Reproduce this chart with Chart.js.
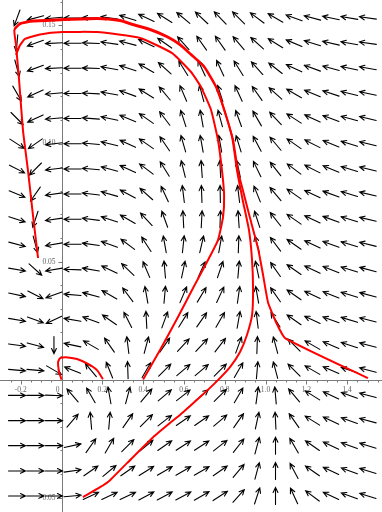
<!DOCTYPE html>
<html>
<head>
<meta charset="utf-8">
<script src="https://cdn.jsdelivr.net/npm/chart.js@4.4.1/dist/chart.umd.min.js"></script>
<style>
  html, body { margin: 0; padding: 0; background: #fff; overflow: hidden; }
  #wrap { width: 382px; height: 512px; position: relative; }
</style>
</head>
<body>
<div id="wrap"><canvas id="campo"></canvas></div>
<script>
// rango de los ejes
const xMin = -0.3015, xMax = 1.571;
const yMin = -0.0561, yMax = 0.1608;

// puntos de la malla del campo
const gridX = [-0.218, -0.128, -0.037, 0.054, 0.144, 0.235, 0.325, 0.416, 0.506, 0.597,
               0.687, 0.778, 0.868, 0.959, 1.049, 1.140, 1.230, 1.321, 1.411, 1.502];
const gridY = [0.1532, 0.1425, 0.1319, 0.1212, 0.1106, 0.0999, 0.0892, 0.0786, 0.0679, 0.0573,
               0.0466, 0.0359, 0.0253, 0.0146, 0.0040, -0.0067, -0.0174, -0.0280, -0.0387, -0.0493];

// direccion de cada flecha en grados (0 = derecha, 90 = arriba), una fila por gridY
const ang00 = [250, 195, 185, 180, 178, 172, 163, 155, 148, 140, 137, 134, 135, 143, 150, 160, 165, 168, 170, 172];
const ang01 = [265, 200, 183, 180, 178, 172, 165, 155, 145, 132, 125, 125, 130, 138, 148, 157, 163, 167, 170, 172];
const ang02 = [285, 200, 183, 180, 178, 170, 162, 150, 138, 122, 115, 115, 122, 132, 142, 155, 160, 165, 168, 170];
const ang03 = [300, 205, 185, 180, 177, 170, 160, 148, 130, 113, 105, 108, 115, 125, 138, 150, 157, 162, 166, 168];
const ang04 = [315, 205, 185, 180, 176, 168, 158, 145, 127, 108, 100, 105, 110, 120, 133, 147, 155, 160, 165, 167];
const ang05 = [327, 215, 187, 180, 175, 166, 155, 145, 124, 106, 100, 100, 107, 118, 130, 145, 153, 158, 163, 166];
const ang06 = [333, 225, 187, 180, 175, 165, 155, 143, 122, 104, 94, 93, 102, 116, 128, 143, 153, 158, 163, 166];
const ang07 = [338, 235, 188, 180, 173, 164, 152, 138, 115, 97, 92, 91, 97, 112, 130, 145, 155, 160, 163, 167];
const ang08 = [342, 252, 188, 180, 173, 162, 150, 133, 110, 93, 87, 88, 94, 108, 128, 145, 155, 160, 163, 167];
const ang09 = [345, 285, 190, 180, 172, 160, 143, 123, 100, 84, 77, 80, 88, 105, 127, 145, 155, 160, 163, 166];
const ang10 = [350, 318, 190, 178, 170, 155, 136, 113, 95, 78, 66, 71, 85, 102, 125, 145, 155, 158, 163, 165];
const ang11 = [348, 333, 200, 175, 165, 150, 127, 100, 85, 67, 59, 65, 82, 100, 125, 145, 155, 158, 163, 165];
const ang12 = [350, 340, 205, 170, 160, 145, 117, 93, 70, 58, 55, 60, 80, 97, 122, 145, 155, 160, 163, 166];
const ang13 = [352, 345, 270, 168, 150, 125, 97, 75, 55, 47, 47, 52, 70, 88, 105, 135, 150, 157, 162, 165];
const ang14 = [355, 355, 330, 158, 130, 112, 92, 60, 45, 40, 40, 45, 60, 85, 105, 135, 150, 157, 162, 165];
const ang15 = [0, 0, 358, 131, 120, 100, 75, 50, 40, 38, 40, 45, 60, 82, 95, 130, 148, 155, 160, 165];
const ang16 = [0, 0, 0, 49, 95, 85, 55, 45, 38, 35, 35, 40, 55, 78, 93, 125, 148, 155, 160, 165];
const ang17 = [0, 0, 0, 12, 55, 60, 45, 40, 35, 33, 33, 38, 52, 75, 90, 120, 145, 155, 160, 163];
const ang18 = [0, 0, 0, 8, 35, 40, 35, 32, 30, 30, 30, 35, 50, 75, 90, 118, 145, 155, 160, 163];
const ang19 = [0, 0, 0, 5, 25, 25, 25, 28, 28, 28, 30, 33, 48, 72, 90, 115, 143, 155, 160, 163];
const angRows = [ang00, ang01, ang02, ang03, ang04, ang05, ang06, ang07, ang08, ang09,
                 ang10, ang11, ang12, ang13, ang14, ang15, ang16, ang17, ang18, ang19];

// marcas de los ejes
const xTicks = [-0.2, 0, 0.2, 0.4, 0.6, 0.8, 1.0, 1.2, 1.4];
const xTickLabels = ['-0.2', '0', '0.2', '0.4', '0.6', '0.8', '1.0', '1.2', '1.4'];
const yTicks = [0.15, 0.10, 0.05, -0.05];
const yTickLabels = ['0.15', '0.10', '0.05', '-0.05'];

// trayectorias (rojas)
const tray1X = [-0.115, -0.140, -0.164, -0.189, -0.208, -0.223, -0.231, -0.203, -0.140, 0.007, 0.174, 0.287, 0.350, 0.434, 0.517, 0.581, 0.635, 0.699, 0.757, 0.797, 0.841, 0.865, 0.890, 0.919, 0.963, 0.988, 1.012, 1.051, 1.096, 1.502];
const tray1Y = [0.0515, 0.0697, 0.0883, 0.1057, 0.1269, 0.1417, 0.1481, 0.1506, 0.1517, 0.1523, 0.1528, 0.1519, 0.1502, 0.1481, 0.1451, 0.1417, 0.1375, 0.1324, 0.1239, 0.1142, 0.1015, 0.0883, 0.0799, 0.0701, 0.0557, 0.0443, 0.0328, 0.0244, 0.0176, 0.0006];

const tray2X = [-0.231, -0.203, -0.140, 0.007, 0.174, 0.287, 0.350, 0.434, 0.517, 0.581, 0.635, 0.699, 0.757, 0.797, 0.838, 0.860, 0.888, 0.919, 0.934, 0.939, 0.934, 0.909, 0.875, 0.826, 0.752, 0.679, 0.596, 0.449, 0.321, 0.238, 0.189, 0.105];
const tray2Y = [0.1485, 0.1510, 0.1521, 0.1527, 0.1532, 0.1523, 0.1506, 0.1485, 0.1455, 0.1421, 0.1379, 0.1328, 0.1243, 0.1146, 0.1019, 0.0887, 0.0761, 0.0633, 0.0506, 0.0379, 0.0273, 0.0189, 0.0117, 0.0053, -0.0015, -0.0074, -0.0138, -0.0244, -0.0354, -0.0426, -0.0456, -0.0498];

const tray3X = [-0.223, -0.203, -0.179, -0.105, 0.007, 0.174, 0.385, 0.542, 0.635, 0.684, 0.733, 0.767, 0.787, 0.797, 0.792, 0.767, 0.713, 0.645, 0.571, 0.483, 0.400];
const tray3Y = [0.1375, 0.1417, 0.1443, 0.1462, 0.1472, 0.1472, 0.1447, 0.1383, 0.1303, 0.1239, 0.1142, 0.1015, 0.0883, 0.0782, 0.0689, 0.0591, 0.0498, 0.0388, 0.0265, 0.0125, 0.0000];

const tray4X = [0.000, -0.012, -0.017, -0.007, 0.022, 0.076, 0.130, 0.174, 0.203];
const tray4Y = [0.0000, 0.0032, 0.0074, 0.0091, 0.0095, 0.0087, 0.0066, 0.0040, 0.0002];

const puntos = [];
const angulos = [];
for (let j = 0; j < gridY.length; j++) {
  for (let i = 0; i < gridX.length; i++) {
    puntos.push({ x: gridX[i], y: gridY[j] });
    angulos.push(angRows[j][i]);
  }
}

function unir(xs, ys) {
  return xs.map((v, k) => ({ x: v, y: ys[k] }));
}

function linea(xs, ys, ancho) {
  return {
    type: 'scatter',
    data: unir(xs, ys),
    showLine: true,
    borderColor: '#ff0000',
    borderWidth: ancho,
    pointRadius: 0,
    tension: 0.15,
    fill: false,
    order: 1
  };
}

// ejes cruzados en el origen + flechas del campo (debajo de las curvas)
const ejes = {
  id: 'ejes',
  beforeDatasetsDraw(chart) {
    const ctx = chart.ctx;
    const sx = chart.scales.x, sy = chart.scales.y;
    const area = chart.chartArea;
    const x0 = Math.round(sx.getPixelForValue(0)) + 0.5;
    const y0 = Math.round(sy.getPixelForValue(0)) + 0.5;
    ctx.save();
    ctx.strokeStyle = '#7a7a7a';
    ctx.lineWidth = 1;
    ctx.beginPath();
    ctx.moveTo(area.left, y0); ctx.lineTo(area.right, y0);
    ctx.moveTo(x0, area.top); ctx.lineTo(x0, area.bottom);
    for (let v = -0.25; v <= 1.56; v += 0.05) {
      const px = Math.round(sx.getPixelForValue(v)) + 0.5;
      const major = Math.abs(Math.round(v / 0.2) * 0.2 - v) < 1e-6;
      ctx.moveTo(px, y0); ctx.lineTo(px, y0 + (major ? 4 : 2));
    }
    for (let v = -0.05; v <= 0.16; v += 0.01) {
      const py = Math.round(sy.getPixelForValue(v)) + 0.5;
      const major = Math.abs(Math.round(v / 0.05) * 0.05 - v) < 1e-6;
      ctx.moveTo(x0, py); ctx.lineTo(x0 - (major ? 4 : 2), py);
    }
    ctx.stroke();

    ctx.fillStyle = '#666';
    ctx.font = '7.5px "Liberation Serif", "DejaVu Serif", serif';
    ctx.textBaseline = 'middle';
    ctx.textAlign = 'center';
    xTicks.forEach((v, k) => {
      let px = sx.getPixelForValue(v);
      if (v === 0) px -= 4;
      ctx.fillText(xTickLabels[k], px, y0 + 10);
    });
    ctx.textAlign = 'right';
    yTicks.forEach((v, k) => {
      ctx.fillText(yTickLabels[k], x0 - 7, sy.getPixelForValue(v));
    });

    // flechas: posicion tomada de los elementos del dataset
    const meta = chart.getDatasetMeta(chart.data.datasets.length - 1);
    ctx.strokeStyle = '#000';
    ctx.lineWidth = 1.1;
    ctx.lineCap = 'round';
    ctx.beginPath();
    meta.data.forEach((pt, k) => {
      const a = -angulos[k] * Math.PI / 180;
      const c = Math.cos(a), s = Math.sin(a);
      const half = 8.5, hl = 5, hw = 2.4;
      const tx = pt.x + c * half, ty = pt.y + s * half;
      ctx.moveTo(pt.x - c * half, pt.y - s * half);
      ctx.lineTo(tx, ty);
      ctx.moveTo(tx - c * hl - s * hw, ty - s * hl + c * hw);
      ctx.lineTo(tx, ty);
      ctx.lineTo(tx - c * hl + s * hw, ty - s * hl - c * hw);
    });
    ctx.stroke();
    ctx.restore();
  }
};

new Chart(document.getElementById('campo'), {
  type: 'scatter',
  data: {
    datasets: [
      linea(tray1X, tray1Y, 2),
      linea(tray2X, tray2Y, 2),
      linea(tray3X, tray3Y, 2),
      linea(tray4X, tray4Y, 2),
      {
        type: 'scatter',
        data: puntos,
        pointRadius: 0,
        order: 2
      }
    ]
  },
  options: {
    responsive: true,
    maintainAspectRatio: false,
    animation: false,
    layout: { padding: 0 },
    scales: {
      x: { type: 'linear', min: xMin, max: xMax, display: false },
      y: { type: 'linear', min: yMin, max: yMax, display: false }
    },
    plugins: {
      legend: { display: false },
      tooltip: { enabled: false }
    }
  },
  plugins: [ejes]
});
</script>
</body>
</html>
